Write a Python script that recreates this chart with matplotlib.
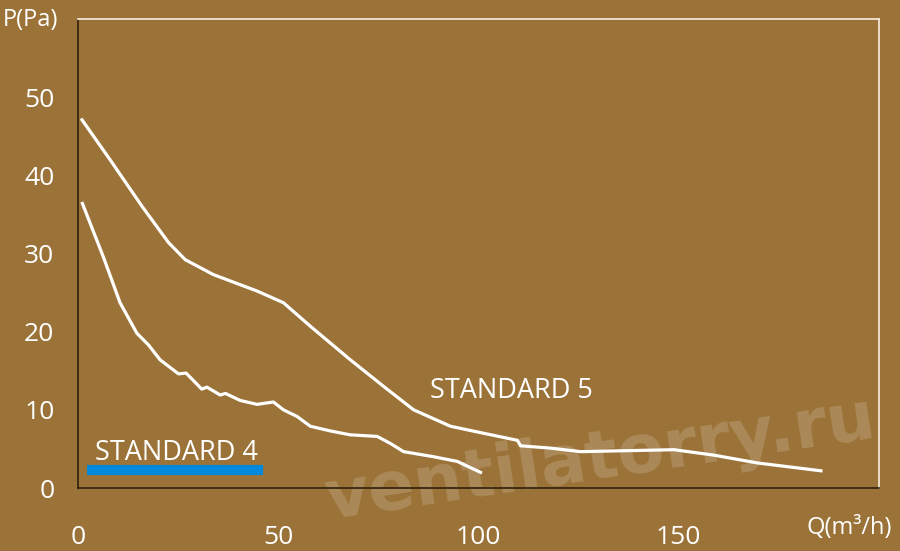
import matplotlib.pyplot as plt

# STANDARD 5 curve (upper)
q5 = [1.0, 8.0, 15.9, 22.6, 26.8, 33.8, 44.7, 51.3, 58.0, 68.0, 76.3, 83.8,
      93.0, 101.3, 109.7, 110.5, 118.0, 125.5, 148.8, 158.8, 169.7, 185.5]
p5 = [47.1, 42.0, 36.1, 31.4, 29.2, 27.3, 25.2, 23.7, 20.7, 16.4, 13.0, 10.0,
      7.9, 7.0, 6.1, 5.4, 5.1, 4.65, 4.9, 4.2, 3.2, 2.2]

# STANDARD 4 curve (lower)
q4 = [1.1, 6.3, 10.5, 14.7, 17.6, 20.5, 25.1, 27.0, 30.9, 32.2, 35.5, 36.8,
      40.5, 44.7, 48.8, 51.3, 54.7, 58.0, 63.0, 68.0, 74.7, 78.0, 81.3, 88.8,
      94.7, 100.5]
p4 = [36.4, 29.6, 23.7, 19.8, 18.3, 16.4, 14.6, 14.7, 12.65, 12.9, 11.9, 12.1,
      11.2, 10.7, 11.0, 10.0, 9.15, 7.9, 7.3, 6.8, 6.6, 5.7, 4.65, 4.0,
      3.4, 2.0]

# blue marker bar under "STANDARD 4"
bar_q = [2.2, 46.3]
bar_p = [2.3, 2.3]

xticks = [0, 50, 100, 150]
yticks = [0, 10, 20, 30, 40, 50]

bg = '#9b7338'
plt.rcParams['font.family'] = ['Open Sans', 'DejaVu Sans']

fig = plt.figure(figsize=(9, 5.51), dpi=100, facecolor=bg)
ax = fig.add_axes([78 / 900, 63 / 551, 801 / 900, 469 / 551])
ax.set_facecolor(bg)

ax.plot(q5, p5, color='white', lw=2.3, zorder=3)
ax.plot(q4, p4, color='white', lw=2.3, zorder=3)
ax.plot(bar_q, bar_p, color='#0088dd', lw=7.3, solid_capstyle='butt', zorder=3)

ax.text(4.3, 3.6, 'STANDARD 4', color='white', fontsize=19.5, va='baseline')
ax.text(87.8, 11.5, 'STANDARD 5', color='white', fontsize=19.5, va='baseline')

# watermark
ax.text(0.313, -0.066, 'ventilatorry.ru', transform=ax.transAxes,
        family='DejaVu Sans', fontweight='bold', fontsize=49, color='white',
        alpha=0.16, rotation=8.5, rotation_mode='anchor', ha='left',
        va='baseline', clip_on=False, zorder=1)

ax.set_xlim(0, 200)
ax.set_ylim(0, 60)
ax.set_xticks(xticks)
ax.set_yticks(yticks)
ax.tick_params(axis='both', length=0, labelsize=19, labelcolor='white')
ax.tick_params(axis='x', pad=27)
ax.tick_params(axis='y', pad=17)

for s in ['left', 'bottom']:
    ax.spines[s].set_color('#2e200b')
    ax.spines[s].set_linewidth(1.2)
for s in ['top', 'right']:
    ax.spines[s].set_color('#f3e4d4')
    ax.spines[s].set_linewidth(1.3)

fig.text(3 / 900, 1 - 20 / 551, 'P(Pa)', color='white', fontsize=17,
         va='center', ha='left')
fig.text(807 / 900, 1 - 528 / 551, 'Q(m³/h)', color='white', fontsize=17,
         va='center', ha='left')

fig.savefig('out.png', dpi=100, facecolor=bg)
